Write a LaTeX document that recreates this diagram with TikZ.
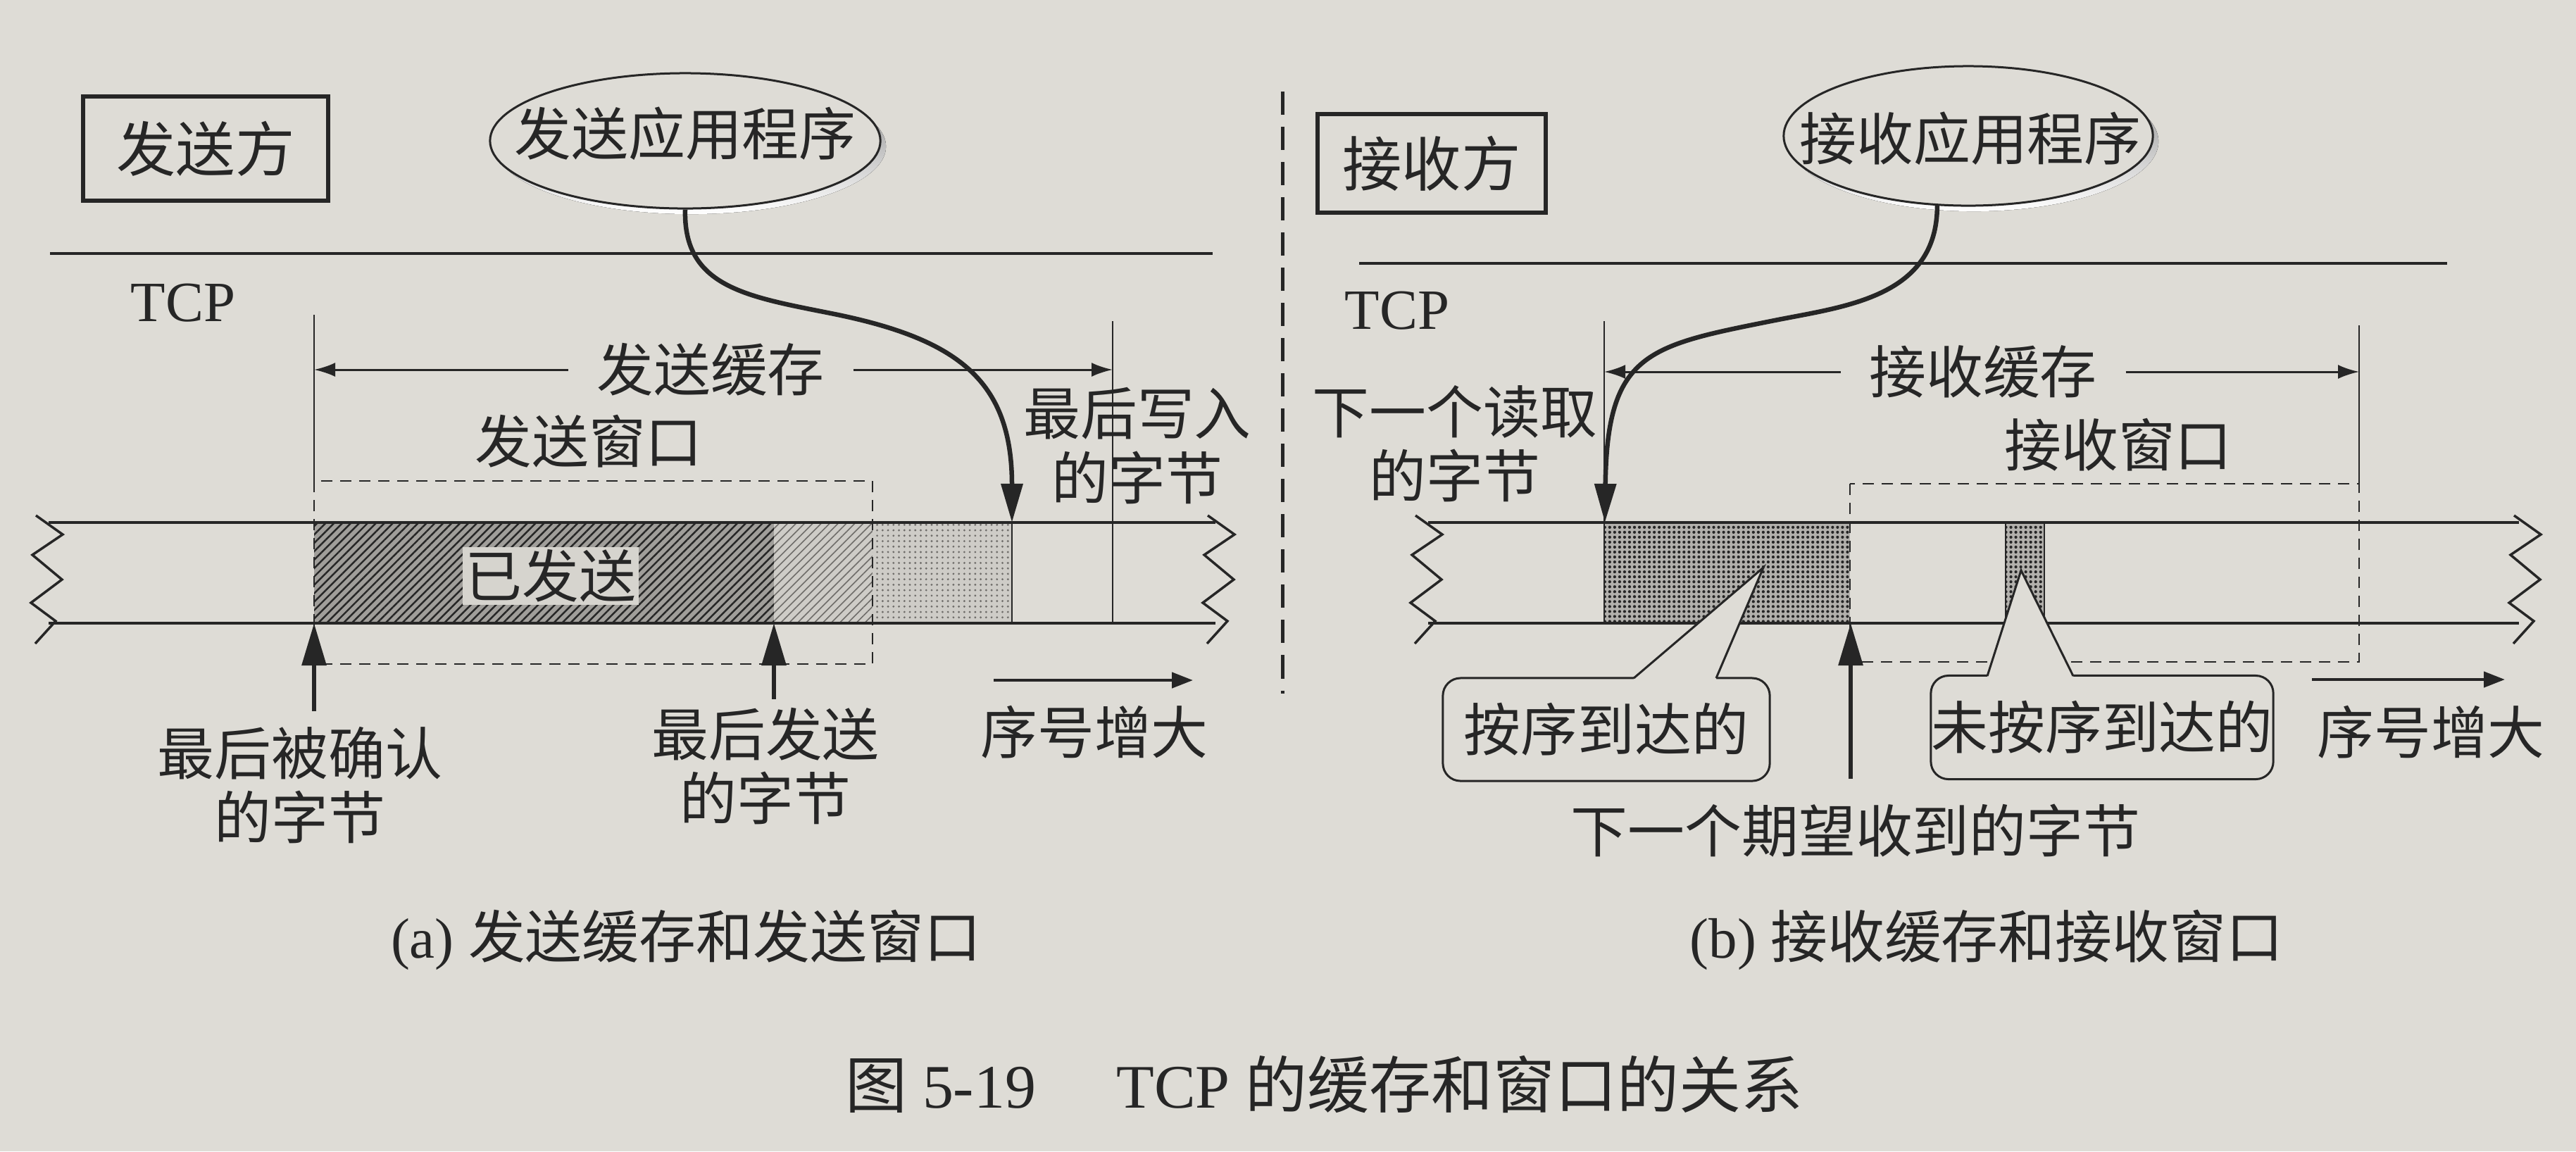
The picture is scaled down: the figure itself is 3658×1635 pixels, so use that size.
\documentclass[tikz,border=0pt]{standalone}
\usepackage{fontspec}
\setmainfont{Liberation Serif}
\newfontfamily\cjk{Noto Sans CJK SC}
\usetikzlibrary{arrows.meta,shapes.geometric,patterns.meta}

\definecolor{paper}{RGB}{222,220,214}
\definecolor{ink}{RGB}{38,38,38}
\definecolor{shade}{RGB}{118,116,112}
\definecolor{hatchdark}{RGB}{160,158,154}
\definecolor{hatchlight}{RGB}{206,204,199}
\definecolor{dotbase}{RGB}{178,176,172}
\definecolor{labelbg}{RGB}{214,212,206}
\definecolor{midgray}{RGB}{110,108,105}

\begin{document}
\begin{tikzpicture}[x=0.01cm,y=-0.01cm,
  every node/.style={text=ink, inner sep=0pt},
  lbl/.style={font=\cjk\fontsize{23}{26}\selectfont, align=center},
  latin/.style={font=\fontsize{23}{26}\selectfont},
  sidebox/.style={draw=ink, line width=0.06cm, font=\cjk\fontsize{24}{26}\selectfont},
  app/.style={ellipse, draw=ink, line width=0.03cm, fill=paper},
  sepline/.style={draw=ink, line width=0.04cm},
  tapeline/.style={draw=ink, line width=0.032cm},
  thin/.style={draw=ink, line width=0.02cm},
  winline/.style={draw=ink, line width=0.027cm, dash pattern=on 0.16cm off 0.11cm},
  midsep/.style={draw=ink, line width=0.05cm, dash pattern=on 0.33cm off 0.17cm},
  bufarrow/.style={draw=ink, line width=0.03cm, -{Latex[length=0.3cm,width=0.2cm]}},
  seqarrow/.style={draw=ink, line width=0.045cm, -{Triangle[length=0.3cm,width=0.22cm]}},
  uparrow/.style={draw=ink, line width=0.06cm, -{Triangle[length=0.6cm,width=0.34cm]}},
  bigcurve/.style={draw=ink, line width=0.065cm, -{Triangle[length=0.55cm,width=0.3cm]}},
  callout/.style={lbl, draw=ink, line width=0.03cm, fill=paper, rounded corners=0.25cm},
  darkhatch/.style={fill=hatchdark, postaction={pattern={Lines[angle=45,distance=2.4pt,line width=0.7pt]}, pattern color=ink}},
  lighthatch/.style={fill=hatchlight, postaction={pattern={Lines[angle=45,distance=2.4pt,line width=0.45pt]}, pattern color=midgray}},
  lightdots/.style={fill=hatchlight, postaction={pattern={Dots[distance=2.2pt,radius=0.45pt]}, pattern color=midgray}},
  dotdark/.style={fill=dotbase, postaction={pattern={Dots[distance=2pt,radius=0.6pt]}, pattern color=ink}},
  zig/.pic={\draw[ink, line width=0.035cm, line join=miter]
     (-17,-10) -- (21,17) -- (-22,46) -- (20,81) -- (-24,114) -- (11,140) -- (-18,172);}
]
\useasboundingbox (0,0) rectangle (3658,1635);
\fill[paper] (0,0) rectangle (3658,1635);

% ================= sender side =================
\node[sidebox, minimum width=3.48cm, minimum height=1.47cm] (sside) at (292,211) {发送方};

\fill[shade] (981,208) ellipse [x radius=2.77cm, y radius=0.96cm];
\node[app, minimum width=5.54cm, minimum height=1.92cm] (sapp) at (973,200) {};
\node[lbl] (sappt) at (973,190) {发送应用程序};

\draw[sepline] (71,360) -- (1722,360);
\node[latin] (stcp) at (260,430) {TCP};

% buffer contents
\path[darkhatch] (446,742) rectangle (1099,885);
\path[lighthatch] (1099,742) rectangle (1239,885);
\path[lightdots] (1239,742) rectangle (1437,885);
\node[lbl, fill=labelbg, minimum width=2.5cm, minimum height=0.82cm] (sent) at (782,818) {已发送};

\draw[tapeline] (69,742) -- (1726,742);
\draw[tapeline] (69,885) -- (1726,885);
\pic at (68,742) {zig};
\pic at (1732,742) {zig};

\coordinate (sL) at (446,447);
\coordinate (sR) at (1580,456);
\draw[thin] (sL) -- (446,683);
\draw[thin] (sR) -- (1580,885);
\draw[thin] (1437,742) -- (1437,885);

\draw[winline] (446,683) rectangle (1239,943);

\node[lbl, inner xsep=0.4cm] (sbuf) at (1009,525) {发送缓存};
\draw[bufarrow] (sbuf.west) -- (sbuf.west -| sL);
\draw[bufarrow] (sbuf.east) -- (sbuf.east -| sR);
\node[lbl] (swin) at (836,627) {发送窗口};
\node[lbl] (swrite) at (1615,633) {最后写入\\的字节};

\coordinate (smid) at (1180,445);
\coordinate (swr) at (1437,742);
\draw[bigcurve] (sapp.south) .. controls +(-3,110) and +(-120,-24) .. (smid)
   .. controls +(180,36) and +(0,-202) .. (swr);

\coordinate (sackTip) at (446,885);
\coordinate (sackTail) at (446,1010);
\draw[uparrow] (sackTail) -- (sackTip);
\node[lbl] (sack) at (426,1115) {最后被确认\\的字节};

\coordinate (slastTip) at (1099,885);
\coordinate (slastTail) at (1099,993);
\draw[uparrow] (slastTail) -- (slastTip);
\node[lbl] (slast) at (1087,1088) {最后发送\\的字节};

\coordinate (sseqA) at (1411,966);
\coordinate (sseqB) at (1694,966);
\draw[seqarrow] (sseqA) -- (sseqB);
\node[lbl] (sseq) at (1554,1040) {序号增大};

\node[latin] (capa) at (974,1335) {(a) {\cjk 发送缓存和发送窗口}};

% ================= divider =================
\draw[midsep] (1821,130) -- (1821,985);

% ================= receiver side =================
\node[sidebox, minimum width=3.23cm, minimum height=1.39cm] (rside) at (2033,232) {接收方};

\fill[shade] (2803,201) ellipse [x radius=2.62cm, y radius=0.99cm];
\node[app, minimum width=5.24cm, minimum height=1.98cm] (rapp) at (2795,193) {};
\node[lbl] (rappt) at (2798,197) {接收应用程序};

\draw[sepline] (1930,374) -- (3475,374);
\node[latin] (rtcp) at (1984,441) {TCP};

\path[dotdark] (2278,742) rectangle (2627,885);
\path[dotdark] (2848,742) rectangle (2903,885);
\draw[thin] (2848,742) -- (2848,885);
\draw[thin] (2903,742) -- (2903,885);

\draw[tapeline] (2028,742) -- (3577,742);
\draw[tapeline] (2028,885) -- (3577,885);
\pic at (2027,742) {zig};
\pic at (3587,742) {zig};

\coordinate (rL) at (2278,456);
\coordinate (rR) at (3350,462);
\draw[thin] (rL) -- (2278,885);
\draw[thin] (rR) -- (3350,687);

\draw[winline] (2627,687) rectangle (3350,940);

\node[lbl, inner xsep=0.4cm] (rbuf) at (2816,528) {接收缓存};
\draw[bufarrow] (rbuf.west) -- (rbuf.west -| rL);
\draw[bufarrow] (rbuf.east) -- (rbuf.east -| rR);
\node[lbl] (rwin) at (3008,632) {接收窗口};
\node[lbl] (rread) at (2066,630) {下一个读取\\的字节};

\coordinate (rmid) at (2520,455);
\coordinate (rrd) at (2279,742);
\draw[bigcurve] (rapp.-114) .. controls +(0,130) and +(100,-20) .. (rmid)
   .. controls +(-180,36) and +(3,-242) .. (rrd);

\coordinate (rnextTip) at (2628,885);
\coordinate (rnextTail) at (2628,1106);
\draw[uparrow] (rnextTail) -- (rnextTip);
\node[lbl] (rnext) at (2635,1180) {下一个期望收到的字节};

% callouts
\node[callout, minimum width=4.64cm, minimum height=1.46cm] (inord) at (2281,1036) {按序到达的};
\fill[paper] (2320,968) -- (2320,960) -- (2504,806) -- (2437,960) -- (2437,968) -- cycle;
\draw[ink, line width=0.03cm, line join=miter] (2320,963) -- (2504,806) -- (2437,963);

\node[callout, minimum width=4.86cm, minimum height=1.47cm] (outord) at (2985,1033) {未按序到达的};
\fill[paper] (2822,965) -- (2822,957) -- (2870,810) -- (2944,957) -- (2944,965) -- cycle;
\draw[ink, line width=0.03cm, line join=miter] (2822,960) -- (2870,810) -- (2944,960);

\coordinate (rseqA) at (3283,965);
\coordinate (rseqB) at (3557,965);
\draw[seqarrow] (rseqA) -- (rseqB);
\node[lbl] (rseq) at (3452,1040) {序号增大};

\node[latin] (capb) at (2821,1335) {(b) {\cjk 接收缓存和接收窗口}};

% ================= figure title =================
\node[font=\fontsize{25}{28}\selectfont] (title) at (1880,1540)
  {{\cjk 图} 5-19\hspace{1.3em}TCP {\cjk 的缓存和窗口的关系}};
\end{tikzpicture}
\end{document}
